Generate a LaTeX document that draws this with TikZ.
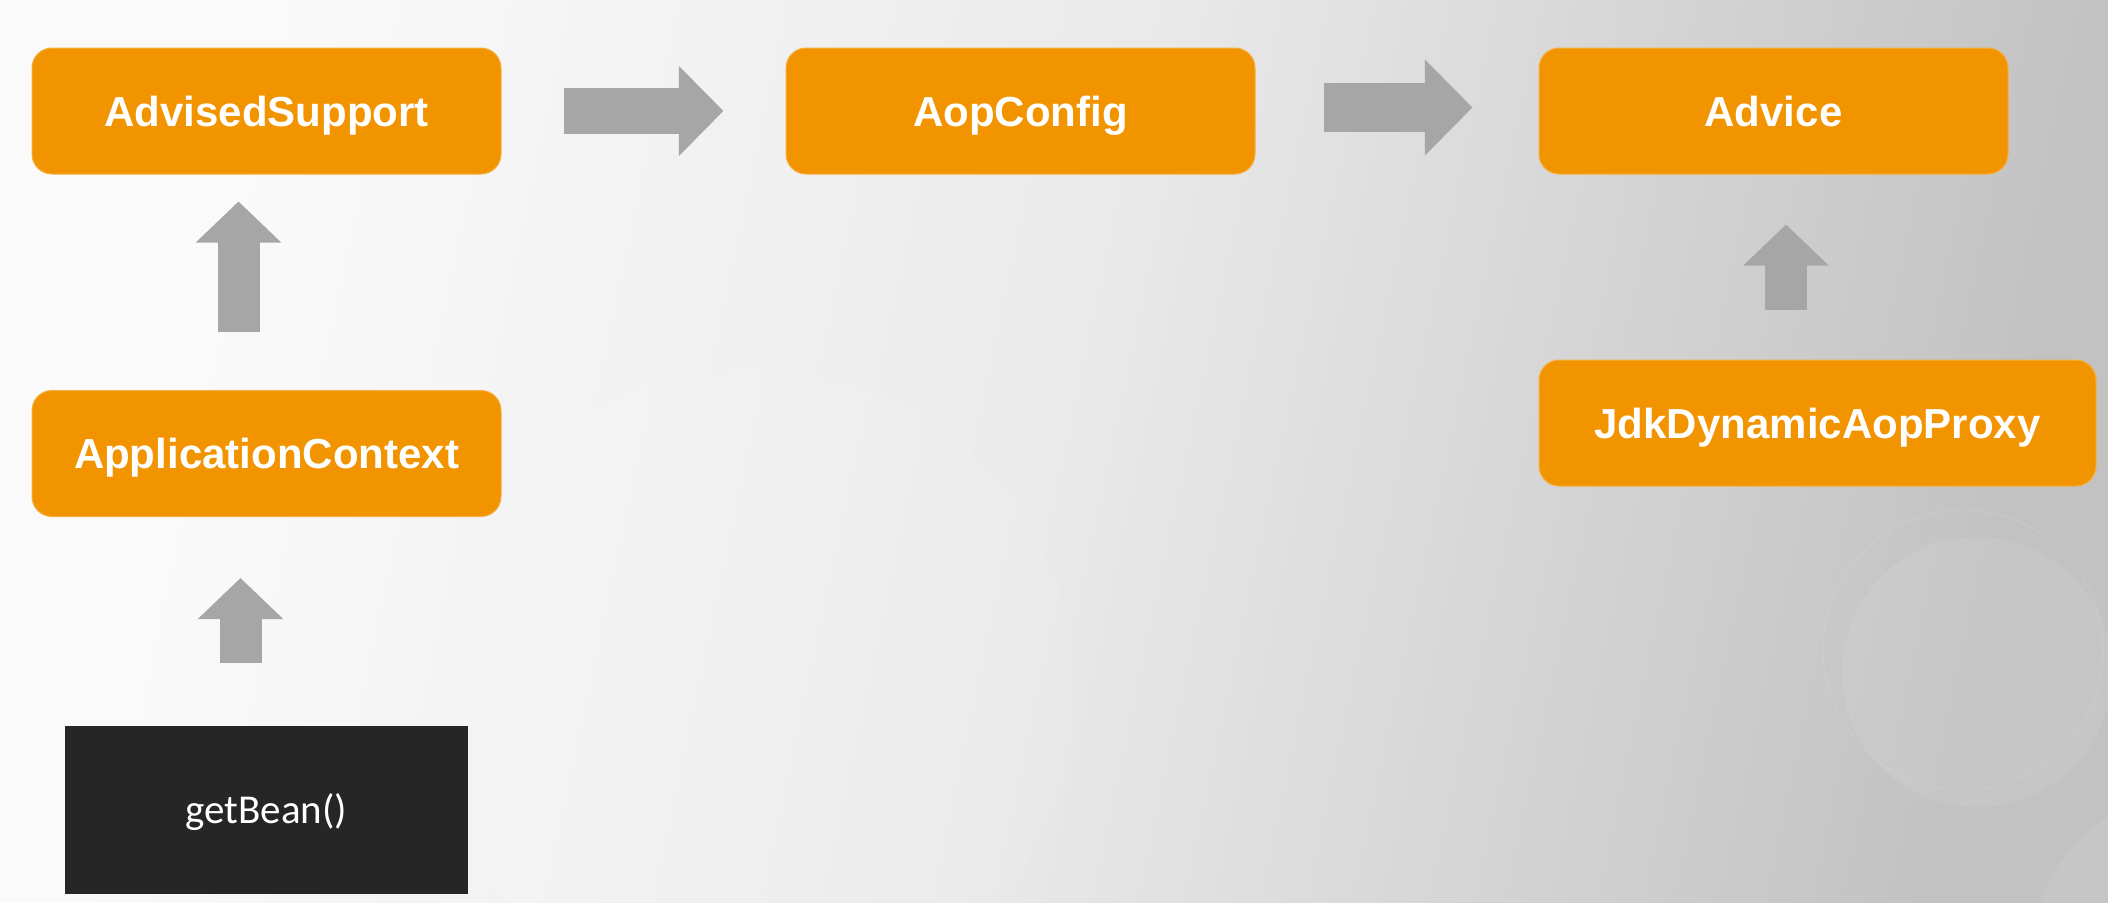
\documentclass[tikz,border=0pt]{standalone}
\usepackage{fontspec}
\setmainfont{Liberation Sans}
\newfontfamily\beanfont{Carlito}
\usetikzlibrary{arrows.meta}
\definecolor{boxorange}{HTML}{F29400}
\definecolor{arrowgray}{HTML}{A6A6A6}
\definecolor{beanblack}{HTML}{262626}
\definecolor{bgA}{HTML}{FAFAFA}
\definecolor{bgB}{HTML}{EAEAEA}
\definecolor{bgC}{HTML}{C2C2C2}
\pgfdeclarehorizontalshading{slidebg}{100bp}{color(0bp)=(bgA); color(27bp)=(bgA); color(50bp)=(bgB); color(75bp)=(bgC); color(100bp)=(bgC)}
\begin{document}
\begin{tikzpicture}[x=1pt,y=1pt,
  class/.style={rectangle,rounded corners=20pt,fill=boxorange,draw=boxorange!75!white,line width=1pt,
    minimum width=469pt,minimum height=126pt,inner sep=0pt,text=white,
    text height=30pt,text depth=0pt,font=\fontsize{42}{50}\selectfont\bfseries},
  call/.style={rectangle,fill=beanblack,minimum width=403pt,minimum height=168pt,inner sep=0pt,
    text=white,text height=26pt,text depth=0pt,font=\beanfont\fontsize{41}{48}\selectfont},
  flowup/.style={arrowgray,line width=42pt,-{Triangle[width=83pt,length=41pt]}},
  flowright/.style={arrowgray,line width=#1,-{Triangle[width=1.9*#1,length=0.97*#1]}}]
\useasboundingbox (0,0) rectangle (2108,-902);
\shade[shading=slidebg,shading angle=-12] (0,0) rectangle (2108,-902);
\fill[white,opacity=0.08] (752,-692) circle [radius=322];
\draw[white,opacity=0.12,line width=1pt] (752,-692) circle [radius=322];
\draw[white,opacity=0.15,line width=1pt] (240,-280) circle [radius=310];
\fill[white,opacity=0.08] (1977,-672) circle [radius=135];
\draw[white,opacity=0.1,line width=1pt] (1963,-650) circle [radius=140];
\fill[white,opacity=0.08] (2200,-960) circle [radius=170];

\node[class] (adv) at (266.5,-111) {AdvisedSupport};
\node[class] (aop) at (1020.5,-111) {AopConfig};
\node[class] (advice) at (1773.5,-111) {Advice};
\node[class] (ctx) at (266.5,-453.5) {ApplicationContext};
\node[class,minimum width=557pt] (jdk) at (1817.5,-423) {JdkDynamicAopProxy};
\node[call] (bean) at (266.5,-810) {getBean()};

\draw[flowright=46pt] ([xshift=62pt]adv.east) -- ([xshift=-62pt]aop.west);
\draw[flowright=49pt] ([shift={(68,3.5)}]aop.east) -- ([shift={(-66,3.5)}]advice.west);
\draw[flowup] ([shift={(-28,58)}]ctx.north) -- ([shift={(-28,-27)}]adv.south);
\draw[flowup] ([shift={(-26,63)}]bean.north) -- ([shift={(-26,-61)}]ctx.south);
\draw[flowup] ([shift={(-31.5,50)}]jdk.north) -- ([shift={(12.5,-50)}]advice.south);
\end{tikzpicture}
\end{document}
